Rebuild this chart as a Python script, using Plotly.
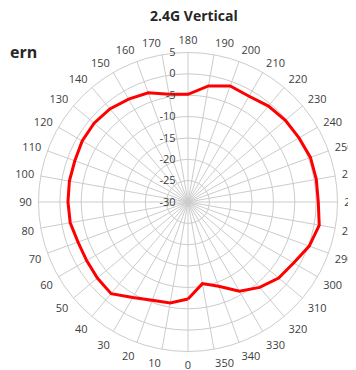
import plotly.graph_objects as go

angles = [0, 10, 20, 30, 40, 50, 60, 70, 80, 90, 100, 110, 120, 130, 140, 150, 160, 170,
          180, 190, 200, 210, 220, 230, 240, 250, 260, 270, 280, 290, 300, 310, 320, 330, 340, 350]
gain_db = [-7.3, -6.0, -5.5, -4.2, -2.0, -2.3, -2.6, -2.6, -2.0, -1.9, -1.8, -1.8, -1.4, -1.3, -1.55, -2.2, -2.8, -4.4,
           -4.8, -2.4, -1.1, -1.4, -0.7, -0.25, 0.0, 0.5, 0.5, 0.5, 1.2, 0.2, -1.45, -2.3, -3.9, -5.9, -9.0, -10.6]
radial_ticks = [-30, -25, -20, -15, -10, -5, 0, 5]
title_text = "2.4G Vertical"
side_text = "ern"

theta = angles + [angles[0]]
r = gain_db + [gain_db[0]]

fig = go.Figure()
fig.add_trace(go.Scatterpolar(
    r=r, theta=theta, mode="lines",
    line=dict(color="#ff0000", width=3),
    showlegend=False, hoverinfo="skip",
))

# page body has an 8px default margin; work in screen pixels and shift
OFF = 8
W, H = 356 - OFF, 370 - OFF
cx, cy, R = 188 - OFF, 202 - OFF, 149.5
GRID = "#cccccc"
fig.update_layout(
    width=W, height=H,
    margin=dict(l=0, r=0, t=0, b=0),
    paper_bgcolor="white",
    font=dict(family="Open Sans, Arial, sans-serif", color="#404040", size=11),
    polar=dict(
        domain=dict(x=[(cx - R) / W, (cx + R) / W], y=[(H - cy - R) / H, (H - cy + R) / H]),
        bgcolor="white",
        angularaxis=dict(
            rotation=270, direction="clockwise",
            tickmode="array", tickvals=angles, ticktext=[str(a) for a in angles],
            ticks="outside", ticklen=4, tickcolor="rgba(0,0,0,0)",
            showline=True, linecolor=GRID, linewidth=1,
            gridcolor=GRID, gridwidth=1,
            tickfont=dict(size=11, color="#404040"),
        ),
        radialaxis=dict(
            range=[-30, 5], tickmode="array", tickvals=radial_ticks,
            ticktext=[str(v) for v in radial_ticks],
            angle=90, tickangle=90, side="counterclockwise",
            ticks="outside", ticklen=8, tickcolor="rgba(0,0,0,0)",
            showline=False, gridcolor=GRID, gridwidth=1,
            tickfont=dict(size=11, color="#404040"),
        ),
    ),
    annotations=[
        dict(text="<b>" + title_text + "</b>", x=(194 - OFF) / W, y=1 - (15 - OFF) / H, xref="paper", yref="paper",
             xanchor="center", yanchor="middle", showarrow=False,
             font=dict(size=14, color="#262626")),
        dict(text="<b>" + side_text + "</b>", x=0, y=1 - (52 - OFF) / H, xref="paper", yref="paper",
             xanchor="left", yanchor="middle", showarrow=False,
             font=dict(size=16, color="#262626")),
    ],
)

fig.write_html("out.html")
